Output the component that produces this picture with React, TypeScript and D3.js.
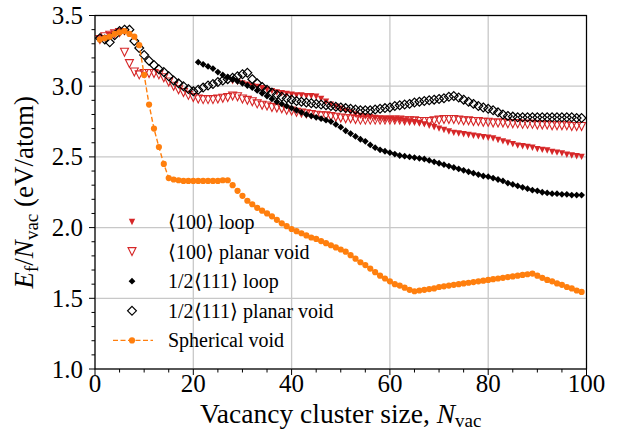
import React from "react";
import * as d3 from "d3";

// ---------- data ----------
const sphericalN = d3.range(1, 100);
const sphericalE = [
  3.33, 3.34, 3.35, 3.37, 3.38, 3.39, 3.37, 3.35, 3.29, 3.08,
  2.87, 2.70, 2.57, 2.45, 2.35, 2.34, 2.335, 2.33, 2.33, 2.33,
  2.33, 2.33, 2.33, 2.33, 2.33, 2.335, 2.335, 2.30, 2.26, 2.225,
  2.19, 2.165, 2.14, 2.12, 2.10, 2.08, 2.055, 2.03, 2.01, 1.99,
  1.975, 1.96, 1.945, 1.93, 1.92, 1.905, 1.89, 1.875, 1.86, 1.845,
  1.83, 1.805, 1.78, 1.755, 1.735, 1.71, 1.685, 1.66, 1.64, 1.62,
  1.60, 1.59, 1.575, 1.56, 1.55, 1.555, 1.56, 1.565, 1.57, 1.58,
  1.585, 1.59, 1.595, 1.60, 1.605, 1.61, 1.615, 1.62, 1.625, 1.63,
  1.635, 1.64, 1.645, 1.65, 1.655, 1.66, 1.665, 1.67, 1.675, 1.66,
  1.645, 1.63, 1.62, 1.605, 1.595, 1.58, 1.57, 1.555, 1.545,
];

const planar100N = d3.range(1, 100);
const planar100E = [
  3.33, 3.35, 3.36, 3.37, 3.38, 3.24, 3.16, 3.10, 3.08, 3.09,
  3.09, 3.09, 3.08, 3.06, 3.03, 3.00, 2.975, 2.955, 2.935, 2.92,
  2.91, 2.905, 2.905, 2.905, 2.91, 2.915, 2.92, 2.93, 2.925, 2.91,
  2.90, 2.89, 2.875, 2.865, 2.86, 2.85, 2.845, 2.84, 2.83, 2.825,
  2.815, 2.81, 2.805, 2.80, 2.795, 2.79, 2.79, 2.785, 2.78, 2.775,
  2.77, 2.77, 2.765, 2.76, 2.76, 2.76, 2.76, 2.76, 2.76, 2.76,
  2.76, 2.76, 2.755, 2.755, 2.755, 2.75, 2.75, 2.75, 2.755, 2.76,
  2.765, 2.765, 2.765, 2.76, 2.755, 2.755, 2.75, 2.75, 2.745, 2.745,
  2.74, 2.74, 2.74, 2.735, 2.735, 2.735, 2.73, 2.73, 2.73, 2.725,
  2.725, 2.725, 2.72, 2.72, 2.72, 2.72, 2.715, 2.715, 2.715,
];

const planar111N = d3.range(1, 100);
const planar111E = [
  3.34, 3.33, 3.31, 3.36, 3.39, 3.40, 3.40, 3.32, 3.27, 3.22,
  3.18, 3.15, 3.12, 3.10, 3.07, 3.04, 3.02, 3.00, 2.98, 2.965,
  2.975, 2.99, 3.005, 3.015, 3.03, 3.04, 3.05, 3.06, 3.07, 3.085,
  3.095, 3.05, 3.02, 2.995, 2.975, 2.955, 2.94, 2.925, 2.915, 2.905,
  2.895, 2.89, 2.885, 2.88, 2.875, 2.87, 2.865, 2.86, 2.855, 2.85,
  2.845, 2.84, 2.835, 2.83, 2.83, 2.83, 2.835, 2.84, 2.845, 2.85,
  2.86, 2.865, 2.87, 2.875, 2.885, 2.89, 2.895, 2.90, 2.905, 2.91,
  2.915, 2.925, 2.93, 2.92, 2.905, 2.89, 2.875, 2.86, 2.85, 2.84,
  2.83, 2.815, 2.80, 2.79, 2.785, 2.78, 2.78, 2.78, 2.78, 2.78,
  2.78, 2.78, 2.78, 2.78, 2.78, 2.78, 2.78, 2.775, 2.775,
];

const loop111N = d3.range(21, 100);
const loop111E = [
  3.17, 3.155, 3.14, 3.125, 3.10, 3.08, 3.065, 3.05, 3.035, 3.02,
  3.005, 2.99, 2.97, 2.95, 2.93, 2.91, 2.89, 2.875, 2.86, 2.845,
  2.83, 2.815, 2.80, 2.79, 2.78, 2.77, 2.76, 2.75, 2.73, 2.71,
  2.685, 2.665, 2.645, 2.625, 2.61, 2.585, 2.565, 2.55, 2.54, 2.53,
  2.52, 2.51, 2.505, 2.50, 2.495, 2.49, 2.485, 2.475, 2.465, 2.455,
  2.445, 2.435, 2.425, 2.415, 2.405, 2.395, 2.385, 2.375, 2.365, 2.36,
  2.35, 2.34, 2.33, 2.315, 2.305, 2.295, 2.285, 2.275, 2.265, 2.26,
  2.25, 2.245, 2.24, 2.24, 2.235, 2.235, 2.23, 2.23, 2.23,
];

const loop100N = [1, 2, 3, 4, 5, 6, ...d3.range(28, 100)];
const loop100E = [
  3.33, 3.34, 3.36, 3.37, 3.38, 3.38,
  3.035, 3.03, 3.02, 3.01, 3.00, 2.995, 2.985, 2.975, 2.965, 2.955,
  2.95, 2.945, 2.94, 2.935, 2.935, 2.93, 2.93, 2.925, 2.91, 2.89,
  2.87, 2.855, 2.84, 2.825, 2.815, 2.80, 2.79, 2.785, 2.78, 2.775,
  2.77, 2.765, 2.765, 2.76, 2.76, 2.755, 2.75, 2.745, 2.74, 2.73,
  2.72, 2.71, 2.70, 2.69, 2.68, 2.67, 2.665, 2.66, 2.655, 2.65,
  2.645, 2.64, 2.635, 2.63, 2.62, 2.61, 2.60, 2.59, 2.58, 2.575,
  2.57, 2.565, 2.555, 2.55, 2.545, 2.535, 2.53, 2.525, 2.515, 2.51,
  2.505, 2.50,
];

const xTicks = [0, 20, 40, 60, 80, 100];
const yTicks = [1.0, 1.5, 2.0, 2.5, 3.0, 3.5];

const RED = "#d62728";
const ORANGE = "#ff7f0e";

// ---------- geometry ----------
const W = 624, H = 432;
const L = 95, R = 586.5, T = 15.5, B = 369;
const x = d3.scaleLinear().domain([0, 100]).range([L, R]);
const y = d3.scaleLinear().domain([1.0, 3.5]).range([B, T]);
const FONT = '"Liberation Serif", "Times New Roman", Times, serif';
const TS = { fontFamily: FONT };

const triDown = (cx: number, cy: number, s: number) =>
  `M${cx - s},${cy - s}L${cx + s},${cy - s}L${cx},${cy + s}Z`;
const diamond = (cx: number, cy: number, r: number) =>
  `M${cx},${cy - r}L${cx + r},${cy}L${cx},${cy + r}L${cx - r},${cy}Z`;

function Marker({ kind, cx, cy }: { kind: string; cx: number; cy: number }) {
  if (kind === "loop100") return <path d={triDown(cx, cy, 3.2)} fill={RED} />;
  if (kind === "planar100")
    return <path d={triDown(cx, cy, 4)} fill="none" stroke={RED} strokeWidth={1.1} />;
  if (kind === "loop111") return <path d={diamond(cx, cy, 3.4)} fill="#000" />;
  if (kind === "planar111")
    return <path d={diamond(cx, cy, 4.4)} fill="none" stroke="#000" strokeWidth={1.2} />;
  return <circle cx={cx} cy={cy} r={3.1} fill={ORANGE} />;
}

export default function App() {
  const xMinor = d3.range(0, 101, 5);
  const yMinor = d3.range(10, 36).map((v) => v / 10);
  const line = d3
    .line<number>()
    .x((_, i) => x(sphericalN[i]))
    .y((d) => y(d));

  const series = [
    { kind: "loop100", N: loop100N, E: loop100E },
    { kind: "planar100", N: planar100N, E: planar100E },
    { kind: "loop111", N: loop111N, E: loop111E },
    { kind: "planar111", N: planar111N, E: planar111E },
  ];

  const legend = [
    { kind: "loop100", label: "\u27E8100\u27E9 loop" },
    { kind: "planar100", label: "\u27E8100\u27E9 planar void" },
    { kind: "loop111", label: "1/2\u27E8111\u27E9 loop" },
    { kind: "planar111", label: "1/2\u27E8111\u27E9 planar void" },
    { kind: "spherical", label: "Spherical void" },
  ];

  return (
    <svg
      width={W}
      height={H}
      style={{ position: "absolute", left: 0, top: 0, background: "#fff", fontFamily: FONT }}
    >
      <rect x={0} y={0} width={W} height={H} fill="#fff" />
      <defs>
        <clipPath id="plot">
          <rect x={L} y={T - 6} width={R - L + 6} height={B - T + 12} />
        </clipPath>
      </defs>
      {/* grid */}
      {xTicks.map((t) => (
        <line key={"gx" + t} x1={x(t)} x2={x(t)} y1={T} y2={B} stroke="#c8c8c8" strokeWidth={1.3} />
      ))}
      {yTicks.map((t) => (
        <line key={"gy" + t} x1={L} x2={R} y1={y(t)} y2={y(t)} stroke="#c8c8c8" strokeWidth={1.3} />
      ))}

      {/* series */}
      <g clipPath="url(#plot)">
        {series.map((s) => (
          <g key={s.kind}>
            {s.N.map((n, i) => (
              <Marker key={i} kind={s.kind} cx={x(n)} cy={y(s.E[i])} />
            ))}
          </g>
        ))}
        <path
          d={line(sphericalE) || ""}
          fill="none"
          stroke={ORANGE}
          strokeWidth={1.4}
          strokeDasharray="5,2.5"
        />
        {sphericalN.map((n, i) => (
          <Marker key={"s" + i} kind="spherical" cx={x(n)} cy={y(sphericalE[i])} />
        ))}
      </g>

      {/* frame */}
      <rect x={L} y={T} width={R - L} height={B - T} fill="none" stroke="#000" strokeWidth={1.2} />

      {/* ticks */}
      {xMinor.map((t) => (
        <line key={"xm" + t} x1={x(t)} x2={x(t)} y1={B} y2={B + (t % 20 === 0 ? 6 : 3.5)} stroke="#000" strokeWidth={1} />
      ))}
      {yMinor.map((t) => (
        <line
          key={"ym" + t}
          x1={L}
          x2={L - (Math.abs(Math.round(t * 10) % 5) === 0 ? 6 : 3.5)}
          y1={y(t)}
          y2={y(t)}
          stroke="#000"
          strokeWidth={1}
        />
      ))}
      {xTicks.map((t) => (
        <text key={"xl" + t} x={x(t)} y={392} fontSize={25} textAnchor="middle" fill="#000" style={TS}>
          {t}
        </text>
      ))}
      {yTicks.map((t) => (
        <text key={"yl" + t} x={83} y={y(t) + 8.5} fontSize={25} textAnchor="end" fill="#000" style={TS}>
          {t.toFixed(1)}
        </text>
      ))}

      {/* axis labels */}
      <text x={(L + R) / 2} y={423} fontSize={27.5} textAnchor="middle" fill="#000" style={TS}>
        Vacancy cluster size, <tspan fontStyle="italic">N</tspan>
        <tspan fontSize={19} dy={4}>vac</tspan>
      </text>
      <text
        transform={`translate(33, ${(T + B) / 2}) rotate(-90)`}
        fontSize={27}
        textAnchor="middle"
        fill="#000"
        style={TS}
      >
        <tspan fontStyle="italic">E</tspan>
        <tspan fontSize={19} dy={5}>f</tspan>
        <tspan dy={-5}>/</tspan>
        <tspan fontStyle="italic">N</tspan>
        <tspan fontSize={19} dy={5}>vac</tspan>
        <tspan dy={-5}> (eV/atom)</tspan>
      </text>

      {/* legend */}
      {legend.map((l, i) => {
        const ly = 222 + i * 29.6;
        return (
          <g key={l.kind}>
            {l.kind === "spherical" && (
              <line x1={113} x2={153} y1={ly} y2={ly} stroke={ORANGE} strokeWidth={1.4} strokeDasharray="5,2.5" />
            )}
            <Marker kind={l.kind} cx={132} cy={ly} />
            <text x={168} y={ly + 7} fontSize={20} fill="#000" style={TS}>
              {l.label}
            </text>
          </g>
        );
      })}
    </svg>
  );
}
